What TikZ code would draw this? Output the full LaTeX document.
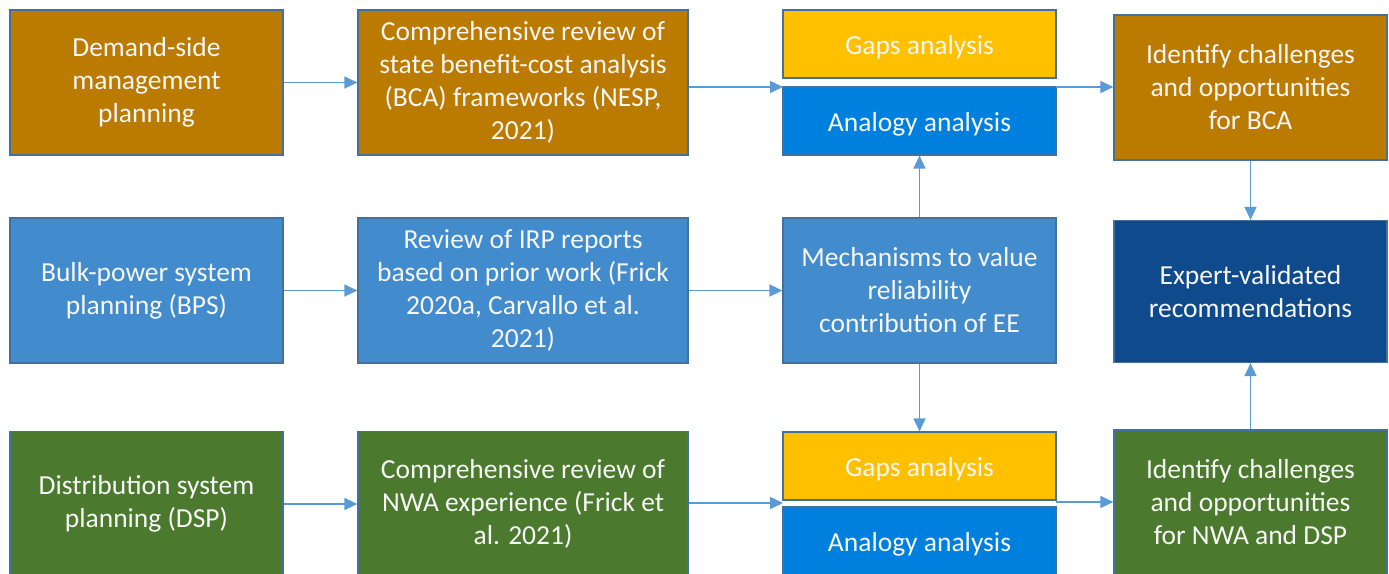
\documentclass[tikz,border=0pt]{standalone}
\usepackage{fontspec}
\setmainfont{Carlito}
\usetikzlibrary{arrows.meta}
\definecolor{cbrown}{RGB}{187,123,0}
\definecolor{cblue}{RGB}{66,140,206}
\definecolor{cgold}{RGB}{255,192,0}
\definecolor{cana}{RGB}{0,128,222}
\definecolor{cgreen}{RGB}{75,121,45}
\definecolor{cnavy}{RGB}{14,74,140}
\definecolor{cborder}{RGB}{65,113,156}
\definecolor{carrow}{RGB}{91,155,213}
\definecolor{ctext}{RGB}{246,246,246}
\tikzset{
  box/.style={draw=cborder, line width=1.2pt, text=ctext, align=center,
    inner sep=0pt, font=\fontsize{27.5}{33}\selectfont},
  wide/.style={box, minimum width=330pt, minimum height=145pt},
  narrow/.style={box, minimum width=273pt, minimum height=145pt},
  half/.style={box, minimum width=273pt, minimum height=68pt, text height=26pt, text depth=6pt},
  arr/.style={draw=carrow, line width=1.5pt, -{Triangle[length=13pt,width=12pt]}}
}
\begin{document}
\begin{tikzpicture}[x=1pt,y=-1pt]
\useasboundingbox (0,0) rectangle (1389,573);
\clip (0,0) rectangle (1389,573);
% row 1
\node[narrow, fill=cbrown] (dsm) at (146.5,82.5) {Demand-side\\management\\planning};
\node[wide, fill=cbrown] (bca) at (523,82.5) {Comprehensive review of\\state benefit-cost analysis\\(BCA) frameworks (NESP,\\2021)};
\node[half, fill=cgold] (gap1) at (919.5,44) {Gaps analysis};
\node[half, fill=cana] (ana1) at (919.5,121) {Analogy analysis};
\node[narrow, fill=cbrown] (idb) at (1250.5,87.5) {Identify challenges\\and opportunities\\for BCA};
% row 2
\node[narrow, fill=cblue] (bps) at (146.5,290.5) {Bulk-power system\\planning (BPS)};
\node[wide, fill=cblue] (irp) at (523,290.5) {Review of IRP reports\\based on prior work (Frick\\2020a, Carvallo et al.\\2021)};
\node[narrow, fill=cblue] (mech) at (919.5,290.5) {Mechanisms to value\\reliability\\contribution of EE};
\node[box, minimum width=273pt, minimum height=142pt, fill=cnavy] (exp) at (1250.5,291.5) {Expert-validated\\recommendations};
% row 3
\node[narrow, fill=cgreen] (dsp) at (146.5,504) {Distribution system\\planning (DSP)};
\node[wide, fill=cgreen] (nwa) at (523,504) {Comprehensive review of\\NWA experience (Frick et\\al. 2021)};
\node[half, fill=cgold] (gap2) at (919.5,466) {Gaps analysis};
\node[half, fill=cana] (ana2) at (919.5,541) {Analogy analysis};
\node[narrow, fill=cgreen] (idn) at (1250.5,502.5) {Identify challenges\\and opportunities\\for NWA and DSP};
% junction points
\coordinate (j1) at (783,87);
\coordinate (j2) at (1056,87);
\coordinate (j3) at (783,503);
\coordinate (j4) at (1056,502);
% connectors
\draw[arr] (dsm) -- (bca);
\draw[arr] (bca.east |- j1) -- (j1);
\draw[arr] (j2) -- (idb.west |- j2);
\draw[arr] (bps) -- (irp);
\draw[arr] (irp) -- (mech);
\draw[arr] (mech) -- (ana1);
\draw[arr] (mech) -- (gap2);
\draw[arr] (idb) -- (exp);
\draw[arr] (idn) -- (exp);
\draw[arr] (dsp) -- (nwa);
\draw[arr] (nwa.east |- j3) -- (j3);
\draw[arr] (j4) -- (idn.west |- j4);
\end{tikzpicture}
\end{document}
